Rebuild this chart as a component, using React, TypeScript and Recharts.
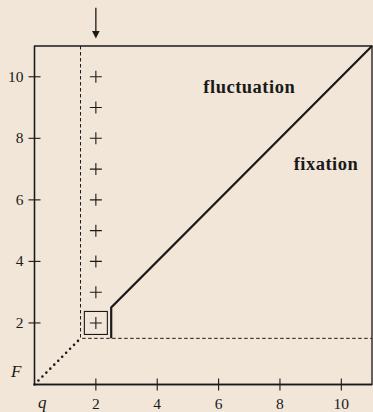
import {
  ComposedChart,
  XAxis,
  YAxis,
  Line,
  Scatter,
  ReferenceArea,
  ReferenceLine,
  ReferenceDot,
} from "recharts";

const serif = "'Liberation Serif', 'Times New Roman', serif";
const ink = "#1a1a1a";

const xTicks = [2, 4, 6, 8, 10];
const yTicks = [2, 4, 6, 8, 10];

// column of "+" marks at q = 2
const plusYs = [2, 3, 4, 5, 6, 7, 8, 9, 10];
const plusPoints = plusYs.map((y) => ({ x: 2, y }));
const boxed = [{ x: 2, y: 2 }];

// fixation / fluctuation boundary
const boundary = [
  { x: 2.5, y: 1.5 },
  { x: 2.5, y: 2.5 },
  { x: 11, y: 11 },
];
// dashed guides
const guide = [
  { x: 1.5, y: 11 },
  { x: 1.5, y: 1.5 },
  { x: 11, y: 1.5 },
];
// dotted start
const origin = [
  { x: 0, y: 0 },
  { x: 1.5, y: 1.5 },
];

const regions = [
  { name: "fluctuation", x: 7, y: 9.68 },
  { name: "fixation", x: 9.5, y: 7.2 },
];

function YTick({ x, y, payload }: any) {
  return (
    <g>
      <line x1={x - 6} x2={x + 6} y1={y} y2={y} stroke={ink} strokeWidth={1.1} />
      <text x={x - 11} y={y} dy={5} textAnchor="end" fontFamily={serif} fontSize={15.5} fill={ink}>
        {payload.value}
      </text>
    </g>
  );
}

function XTick({ x, y, payload }: any) {
  return (
    <g>
      <line x1={x} x2={x} y1={y - 6} y2={y + 6} stroke={ink} strokeWidth={1.1} />
      <text x={x} y={y + 24} textAnchor="middle" fontFamily={serif} fontSize={15.5} fill={ink}>
        {payload.value}
      </text>
    </g>
  );
}

function Plus({ cx, cy }: any) {
  return (
    <path
      d={`M${cx - 6},${cy}H${cx + 6}M${cx},${cy - 6}V${cy + 6}`}
      stroke={ink}
      strokeWidth={1.1}
      fill="none"
    />
  );
}

function Box({ cx, cy }: any) {
  return <rect x={cx - 11.5} y={cy - 11.5} width={23} height={23} fill="none" stroke={ink} strokeWidth={1.1} />;
}

function Arrow({ x1, y1, x2, y2 }: any) {
  return (
    <g>
      <line x1={x1} y1={y1} x2={x2} y2={y2 - 6} stroke={ink} strokeWidth={1.3} />
      <path d={`M${x2 - 3.8},${y2 - 7.5}L${x2 + 3.8},${y2 - 7.5}L${x2},${y2}Z`} fill={ink} />
    </g>
  );
}

export default function App() {
  return (
    <div style={{ position: "fixed", left: 0, top: 0, width: 373, height: 412, background: "#f2e6d9" }}>
      <ComposedChart width={373} height={412} margin={{ top: 46, right: 1, bottom: 0.5, left: 0.5 }}>
        <XAxis
          type="number"
          dataKey="x"
          domain={[0, 11]}
          ticks={xTicks}
          interval={0}
          height={27}
          tickSize={0}
          tickMargin={0}
          tickLine={false}
          tick={<XTick />}
          axisLine={{ stroke: ink, strokeWidth: 1.3 }}
          label={{
            content: ({ viewBox }: any) => (
              <text x={viewBox.x + 3.5} y={viewBox.y + 23.5} fontFamily={serif} fontStyle="italic" fontSize={17} fill={ink}>
                q
              </text>
            ),
          }}
        />
        <YAxis
          type="number"
          dataKey="y"
          domain={[0, 11]}
          ticks={yTicks}
          interval={0}
          width={34}
          tickSize={0}
          tickMargin={0}
          tickLine={false}
          tick={<YTick />}
          axisLine={{ stroke: ink, strokeWidth: 1.3 }}
          label={{
            content: ({ viewBox }: any) => (
              <text
                x={viewBox.x + viewBox.width - 13}
                y={viewBox.y + viewBox.height - 7.5}
                textAnchor="end"
                fontFamily={serif}
                fontStyle="italic"
                fontSize={17}
                fill={ink}
              >
                F
              </text>
            ),
          }}
        />
        <ReferenceArea x1={0} x2={11} y1={0} y2={11} fill="none" stroke={ink} strokeWidth={1.3} />
        <Line
          data={guide}
          dataKey="y"
          type="linear"
          stroke={ink}
          strokeWidth={1}
          strokeDasharray="3.5 2.5"
          dot={false}
          activeDot={false}
          isAnimationActive={false}
        />
        <Line
          data={origin}
          dataKey="y"
          type="linear"
          stroke={ink}
          strokeWidth={2.6}
          strokeLinecap="round"
          strokeDasharray="0 5.6"
          dot={false}
          activeDot={false}
          isAnimationActive={false}
        />
        <Line
          data={boundary}
          dataKey="y"
          type="linear"
          stroke={ink}
          strokeWidth={2.2}
          dot={false}
          activeDot={false}
          isAnimationActive={false}
        />
        <Scatter data={plusPoints} dataKey="y" shape={<Plus />} isAnimationActive={false} />
        <Scatter data={boxed} dataKey="y" shape={<Box />} isAnimationActive={false} />
        <ReferenceLine
          segment={[
            { x: 2, y: 12.24 },
            { x: 2, y: 11.24 },
          ]}
          ifOverflow="visible"
          shape={<Arrow />}
        />
        {regions.map((r) => (
          <ReferenceDot
            key={r.name}
            x={r.x}
            y={r.y}
            r={0}
            fill="none"
            stroke="none"
            label={{
              value: r.name,
              position: "center",
              fontFamily: serif,
              fontSize: 18.5,
              fontWeight: 700,
              letterSpacing: 0.5,
              fill: ink,
            }}
          />
        ))}
      </ComposedChart>
    </div>
  );
}
